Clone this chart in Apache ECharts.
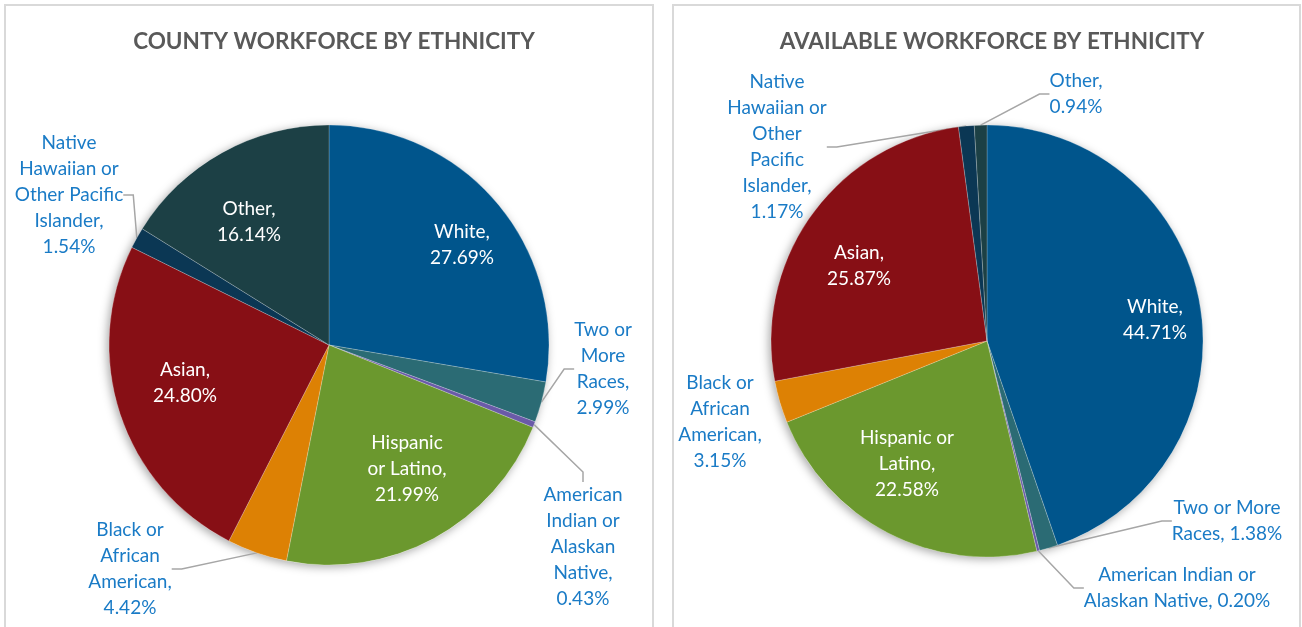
<!DOCTYPE html>
<html>
<head>
<meta charset="utf-8">
<script src="https://cdn.jsdelivr.net/npm/echarts@6/dist/echarts.min.js"></script>
<style>
html, body { margin: 0; padding: 0; background: #fff; overflow: hidden; }
.panel { position: absolute; border: 2px solid #d9d9d9; box-sizing: border-box; }
#Chart { position: absolute; left: 0; top: 0; width: 1302px; height: 627px; }
</style>
</head>
<body>
<div class="panel" style="left:4px;top:4px;width:650px;height:660px"></div>
<div class="panel" style="left:672px;top:4px;width:629px;height:660px"></div>
<div id="Chart"></div>
<script>
// data
var categories = ['White', 'Two or More Races', 'American Indian or Alaskan Native', 'Hispanic or Latino',
    'Black or African American', 'Asian', 'Native Hawaiian or Other Pacific Islander', 'Other'];
var countyValues = [27.69, 2.99, 0.43, 21.99, 4.42, 24.80, 1.54, 16.14];
var availableValues = [44.71, 1.38, 0.20, 22.58, 3.15, 25.87, 1.17, 0.94];

// label text as wrapped in the picture (%v = value)
var countyLabelText = ['White,\n%v', 'Two or\nMore\nRaces,\n%v', 'American\nIndian or\nAlaskan\nNative,\n%v',
    'Hispanic\nor Latino,\n%v', 'Black or\nAfrican\nAmerican,\n%v', 'Asian,\n%v',
    'Native\nHawaiian or\nOther Pacific\nIslander,\n%v', 'Other,\n%v'];
var availableLabelText = ['White,\n%v', 'Two or More\nRaces, %v', 'American Indian or\nAlaskan Native, %v',
    'Hispanic or\nLatino,\n%v', 'Black or\nAfrican\nAmerican,\n%v', 'Asian,\n%v',
    'Native\nHawaiian or\nOther\nPacific\nIslander,\n%v', 'Other,\n%v'];

// layout only: where Excel put each label (text block centre)
var countyLabelAt = [[462, 245], [603, 369], [583, 547], [407, 469], [130, 569], [185, 383], [69, 195], [249, 222]];
var availableLabelAt = [[1155, 320], [1227, 521], [1177, 588], [907, 464], [720, 422], [859, 266], [777, 147], [1076, 94]];
var countyInside = [1, 0, 0, 1, 0, 1, 0, 1];
var availableInside = [1, 0, 0, 1, 0, 1, 0, 0];
var availableNoLine = [0, 0, 0, 0, 1, 0, 0, 0];

var colors = ['#00558c', '#2b6b74', '#6a5aa8', '#6b982e', '#dd8104', '#870f15', '#0b3754', '#1c4045'];
var labelBlue = '#1a7bc6';
var fontFamily = 'Lato';

function buildData(values, texts, inside, noLine) {
    return values.map(function (v, i) {
        return {
            name: categories[i],
            value: v,
            itemStyle: { color: colors[i] },
            label: {
                position: inside[i] ? 'inside' : 'outside',
                color: inside[i] ? '#ffffff' : labelBlue,
                formatter: texts[i].replace('%v', v.toFixed(2) + '%')
            },
            labelLine: { show: !inside[i] && !(noLine && noLine[i]) }
        };
    });
}

function pieSeries(values, texts, inside, noLine, center, radius, at) {
    return {
        type: 'pie',
        center: center,
        radius: radius,
        startAngle: 90,
        clockwise: true,
        avoidLabelOverlap: false,
        z: 3,
        label: {
            show: true,
            fontFamily: fontFamily,
            fontSize: 19,
            lineHeight: 26
        },
        labelLine: {
            show: true,
            length: 10,
            length2: 10,
            lineStyle: { color: '#a6a6a6', width: 1.5 }
        },
        itemStyle: { borderColor: 'rgba(255,255,255,0.35)', borderWidth: 0.6 },
        emphasis: { disabled: true },
        labelLayout: function (params) {
            var p = at[params.dataIndex];
            return { x: p[0], y: p[1], align: 'center', verticalAlign: 'middle' };
        },
        data: buildData(values, texts, inside, noLine)
    };
}

// soft drop shadow under each pie
function shadowSeries(center, radius) {
    return {
        type: 'pie',
        center: center,
        radius: radius,
        silent: true,
        z: 1,
        label: { show: false },
        labelLine: { show: false },
        itemStyle: { color: '#ffffff', shadowBlur: 10, shadowOffsetX: -2, shadowOffsetY: 2, shadowColor: 'rgba(0,0,0,0.35)' },
        data: [1]
    };
}

var myChart = echarts.init(document.getElementById('Chart'));
var option = {
    animation: false,
    title: [{
        text: 'COUNTY WORKFORCE BY ETHNICITY',
        left: 329, top: 25, textAlign: 'center',
        textStyle: { fontFamily: fontFamily, fontSize: 22.5, fontWeight: 'bold', color: '#595959' }
    }, {
        text: 'AVAILABLE WORKFORCE BY ETHNICITY',
        left: 987, top: 25, textAlign: 'center',
        textStyle: { fontFamily: fontFamily, fontSize: 22.5, fontWeight: 'bold', color: '#595959' }
    }],
    series: [
        shadowSeries([329, 345], 220),
        pieSeries(countyValues, countyLabelText, countyInside, null, [329, 345], 220, countyLabelAt),
        shadowSeries([987, 341], 216),
        pieSeries(availableValues, availableLabelText, availableInside, availableNoLine, [987, 341], 216, availableLabelAt)
    ]
};
myChart.setOption(option);
window.addEventListener('resize', function () {
    myChart.resize();
});
</script>
</body>
</html>
